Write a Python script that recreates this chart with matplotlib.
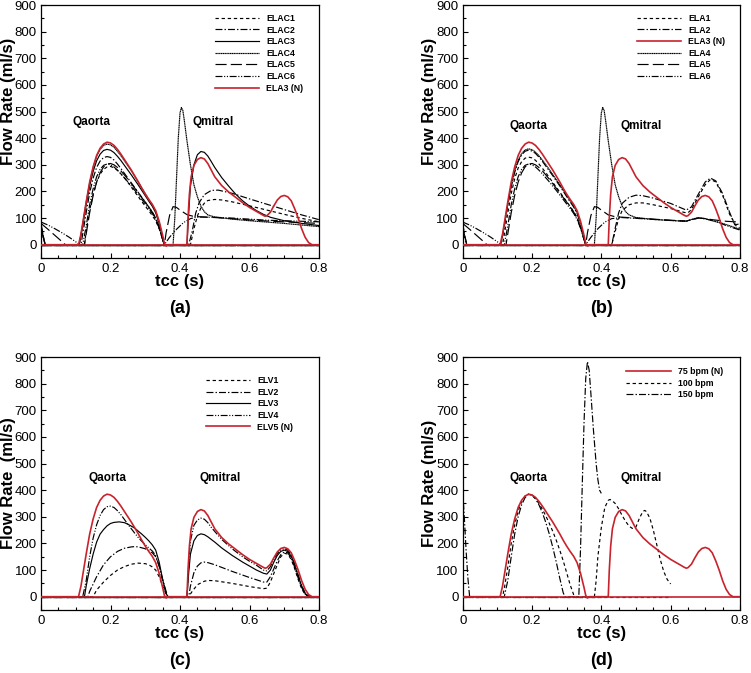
import matplotlib
matplotlib.use('Agg')
import matplotlib.pyplot as plt
from matplotlib.ticker import MultipleLocator, FuncFormatter

plt.rcParams['font.family'] = ['Liberation Sans', 'DejaVu Sans']
plt.rcParams['lines.scale_dashes'] = False

RED = '#c8232c'

# (t [s], Q [ml/s]); aortic + mitral flow of one case in one list
normal = [(0, 0), (0.108, 0), (0.115, 40), (0.12, 80), (0.13, 160), (0.14, 235), (0.15, 292),
          (0.16, 335), (0.17, 362), (0.18, 378), (0.19, 385), (0.20, 382), (0.21, 373), (0.22, 358),
          (0.23, 340), (0.24, 320), (0.25, 300), (0.26, 280), (0.27, 258), (0.28, 236), (0.29, 212),
          (0.30, 190), (0.31, 170), (0.32, 152), (0.33, 128), (0.34, 88), (0.35, 35), (0.355, 5),
          (0.36, -5), (0.365, 0), (0.42, 0), (0.423, 100), (0.427, 190), (0.432, 255), (0.44, 298),
          (0.45, 320), (0.46, 327), (0.47, 322), (0.48, 305), (0.49, 280), (0.50, 255), (0.52, 222),
          (0.54, 198), (0.56, 178), (0.58, 158), (0.60, 140), (0.62, 125), (0.64, 110), (0.645, 107),
          (0.65, 109), (0.66, 122), (0.67, 146), (0.68, 168), (0.69, 181), (0.70, 185), (0.71, 180),
          (0.72, 165), (0.73, 135), (0.74, 100), (0.75, 60), (0.76, 28), (0.77, 8), (0.78, 0), (0.8, 0)]

# panel (a)
elac1 = [(0, 80), (0.006, 35), (0.012, 0), (0.125, 0), (0.13, 50), (0.14, 130), (0.15, 190), (0.16, 235),
         (0.17, 265), (0.18, 283), (0.19, 292), (0.20, 294), (0.21, 289), (0.22, 279), (0.23, 266),
         (0.24, 251), (0.25, 234), (0.26, 216), (0.27, 198), (0.28, 180), (0.29, 162), (0.30, 145),
         (0.31, 128), (0.32, 110), (0.33, 90), (0.34, 60), (0.35, 20), (0.355, 0), (0.43, 0), (0.44, 60),
         (0.45, 108), (0.46, 138), (0.47, 156), (0.48, 166), (0.50, 170), (0.52, 168), (0.55, 161),
         (0.60, 146), (0.65, 130), (0.70, 114), (0.75, 99), (0.80, 86)]
elac2 = [(0, 80), (0.006, 35), (0.012, 0), (0.115, 0), (0.12, 40), (0.13, 120), (0.14, 195), (0.15, 250),
         (0.16, 290), (0.17, 314), (0.18, 327), (0.19, 331), (0.20, 328), (0.21, 318), (0.22, 303),
         (0.23, 286), (0.24, 268), (0.25, 250), (0.26, 232), (0.27, 214), (0.28, 196), (0.29, 178),
         (0.30, 160), (0.31, 142), (0.32, 123), (0.33, 100), (0.34, 65), (0.35, 20), (0.355, 0),
         (0.425, 0), (0.435, 50), (0.445, 118), (0.455, 158), (0.47, 188), (0.49, 204), (0.51, 205),
         (0.55, 193), (0.60, 172), (0.65, 152), (0.70, 132), (0.75, 112), (0.80, 94)]
elac3 = [(0, 75), (0.006, 30), (0.012, 0), (0.11, 0), (0.12, 70), (0.13, 150), (0.14, 220), (0.15, 275),
         (0.16, 315), (0.17, 340), (0.18, 354), (0.19, 358), (0.20, 355), (0.21, 346), (0.22, 332),
         (0.23, 316), (0.24, 298), (0.25, 280), (0.26, 262), (0.27, 243), (0.28, 224), (0.29, 204),
         (0.30, 184), (0.31, 164), (0.32, 145), (0.33, 120), (0.34, 80), (0.35, 25), (0.355, 0),
         (0.42, 0), (0.425, 120), (0.43, 220), (0.44, 300), (0.45, 338), (0.46, 350), (0.47, 347),
         (0.48, 333), (0.49, 312), (0.50, 290), (0.52, 252), (0.54, 220), (0.56, 190), (0.58, 165),
         (0.60, 145), (0.62, 128), (0.64, 114), (0.66, 103), (0.70, 90), (0.75, 80), (0.80, 72)]
elac4 = [(0, 70), (0.006, 30), (0.012, 0), (0.11, 0), (0.12, 78), (0.13, 160), (0.14, 232), (0.15, 290),
         (0.16, 332), (0.17, 358), (0.18, 373), (0.19, 378), (0.20, 375), (0.21, 366), (0.22, 351),
         (0.23, 334), (0.24, 315), (0.25, 296), (0.26, 277), (0.27, 256), (0.28, 235), (0.29, 213),
         (0.30, 192), (0.31, 171), (0.32, 150), (0.33, 125), (0.34, 85), (0.35, 28), (0.355, 0),
         (0.38, 0), (0.385, 100), (0.39, 250), (0.395, 400), (0.40, 495), (0.404, 515), (0.408, 505),
         (0.412, 470), (0.42, 390), (0.43, 300), (0.44, 225), (0.45, 180), (0.46, 145), (0.47, 124),
         (0.48, 112), (0.50, 104), (0.55, 96), (0.60, 90), (0.65, 85), (0.70, 80), (0.75, 74), (0.80, 68)]
elac5 = [(0, 80), (0.02, 58), (0.04, 35), (0.06, 12), (0.07, 0), (0.125, 0), (0.13, 40), (0.14, 120),
         (0.15, 185), (0.16, 235), (0.17, 270), (0.18, 292), (0.19, 303), (0.20, 305), (0.21, 300),
         (0.22, 290), (0.23, 277), (0.24, 262), (0.25, 246), (0.26, 229), (0.27, 212), (0.28, 195),
         (0.29, 177), (0.30, 160), (0.31, 142), (0.32, 123), (0.33, 100), (0.34, 65), (0.35, 20),
         (0.355, 0), (0.36, 45), (0.37, 110), (0.38, 143), (0.39, 140), (0.40, 130), (0.42, 113),
         (0.44, 106), (0.50, 102), (0.55, 98), (0.60, 93), (0.65, 89), (0.70, 86), (0.75, 83), (0.80, 80)]
elac6 = [(0, 85), (0.02, 74), (0.04, 60), (0.06, 45), (0.08, 29), (0.10, 11), (0.11, 0), (0.12, 0),
         (0.13, 70), (0.14, 150), (0.15, 210), (0.16, 255), (0.17, 283), (0.18, 298), (0.19, 303),
         (0.20, 300), (0.21, 292), (0.22, 280), (0.23, 266), (0.24, 251), (0.25, 236), (0.26, 220),
         (0.27, 204), (0.28, 187), (0.29, 170), (0.30, 153), (0.31, 136), (0.32, 118), (0.33, 95),
         (0.34, 62), (0.35, 20), (0.355, 0), (0.37, 28), (0.39, 58), (0.41, 83), (0.43, 98), (0.45, 104),
         (0.50, 103), (0.55, 100), (0.60, 96), (0.65, 92), (0.70, 90), (0.75, 88), (0.80, 86)]

# panel (b)
ela1 = [(0, 60), (0.006, 25), (0.012, 0), (0.115, 0), (0.12, 38), (0.13, 118), (0.14, 192), (0.15, 248),
        (0.16, 288), (0.17, 312), (0.18, 325), (0.19, 329), (0.20, 326), (0.21, 317), (0.22, 303),
        (0.23, 287), (0.24, 270), (0.25, 252), (0.26, 234), (0.27, 216), (0.28, 198), (0.29, 180),
        (0.30, 162), (0.31, 144), (0.32, 125), (0.33, 102), (0.34, 66), (0.35, 20), (0.355, 0),
        (0.43, 0), (0.44, 50), (0.45, 98), (0.46, 128), (0.48, 150), (0.50, 157), (0.52, 157),
        (0.55, 150), (0.60, 136), (0.64, 121), (0.65, 120), (0.66, 132), (0.68, 180), (0.70, 226),
        (0.715, 245), (0.73, 236), (0.75, 185), (0.77, 115), (0.79, 68), (0.80, 62)]
ela2 = [(0, 80), (0.006, 35), (0.012, 0), (0.11, 0), (0.12, 68), (0.13, 148), (0.14, 218), (0.15, 272),
        (0.16, 312), (0.17, 337), (0.18, 351), (0.19, 355), (0.20, 352), (0.21, 343), (0.22, 329),
        (0.23, 313), (0.24, 295), (0.25, 277), (0.26, 259), (0.27, 240), (0.28, 221), (0.29, 201),
        (0.30, 181), (0.31, 161), (0.32, 142), (0.33, 118), (0.34, 78), (0.35, 24), (0.355, 0),
        (0.43, 0), (0.44, 62), (0.45, 120), (0.46, 155), (0.48, 178), (0.50, 186), (0.52, 184),
        (0.55, 175), (0.60, 155), (0.645, 130), (0.66, 142), (0.68, 190), (0.70, 236), (0.715, 250),
        (0.73, 240), (0.75, 192), (0.77, 122), (0.785, 75), (0.80, 78)]
ela4 = [(0, 75), (0.006, 30), (0.012, 0), (0.11, 0), (0.12, 72), (0.13, 152), (0.14, 222), (0.15, 277),
        (0.16, 317), (0.17, 342), (0.18, 356), (0.19, 360), (0.20, 357), (0.21, 348), (0.22, 334),
        (0.23, 318), (0.24, 300), (0.25, 282), (0.26, 263), (0.27, 244), (0.28, 225), (0.29, 205),
        (0.30, 185), (0.31, 165), (0.32, 146), (0.33, 121), (0.34, 81), (0.35, 26), (0.355, 0),
        (0.38, 0), (0.385, 100), (0.39, 250), (0.395, 400), (0.40, 495), (0.404, 515), (0.408, 505),
        (0.412, 470), (0.42, 390), (0.43, 300), (0.44, 225), (0.45, 180), (0.46, 145), (0.47, 124),
        (0.48, 112), (0.50, 102), (0.55, 95), (0.60, 91), (0.645, 88), (0.66, 95), (0.68, 102),
        (0.70, 98), (0.72, 90), (0.75, 80), (0.80, 58)]
ela5 = [(0, 80), (0.02, 58), (0.04, 35), (0.06, 12), (0.07, 0), (0.125, 0), (0.13, 40), (0.14, 120),
        (0.15, 185), (0.16, 235), (0.17, 270), (0.18, 292), (0.19, 303), (0.20, 305), (0.21, 300),
        (0.22, 290), (0.23, 277), (0.24, 262), (0.25, 246), (0.26, 229), (0.27, 212), (0.28, 195),
        (0.29, 177), (0.30, 160), (0.31, 142), (0.32, 123), (0.33, 100), (0.34, 65), (0.35, 20),
        (0.355, 0), (0.36, 45), (0.37, 110), (0.38, 143), (0.39, 140), (0.40, 130), (0.42, 112),
        (0.44, 105), (0.50, 100), (0.55, 96), (0.60, 92), (0.645, 89), (0.66, 94), (0.68, 100),
        (0.70, 98), (0.72, 94), (0.76, 88), (0.80, 85)]
ela6 = [(0, 85), (0.02, 74), (0.04, 60), (0.06, 45), (0.08, 29), (0.10, 11), (0.11, 0), (0.12, 0),
        (0.13, 70), (0.14, 150), (0.15, 210), (0.16, 255), (0.17, 283), (0.18, 298), (0.19, 303),
        (0.20, 300), (0.21, 292), (0.22, 280), (0.23, 266), (0.24, 251), (0.25, 236), (0.26, 220),
        (0.27, 204), (0.28, 187), (0.29, 170), (0.30, 153), (0.31, 136), (0.32, 118), (0.33, 95),
        (0.34, 62), (0.35, 20), (0.355, 0), (0.37, 28), (0.39, 60), (0.41, 85), (0.43, 98), (0.46, 102),
        (0.50, 99), (0.55, 95), (0.60, 91), (0.645, 88), (0.66, 94), (0.68, 100), (0.70, 97),
        (0.73, 88), (0.76, 72), (0.80, 55)]

# panel (c)
elv1 = [(0, 0), (0.15, 0), (0.16, 25), (0.18, 55), (0.20, 80), (0.22, 100), (0.24, 113), (0.26, 122),
        (0.28, 126), (0.30, 124), (0.31, 120), (0.32, 112), (0.33, 100), (0.34, 75), (0.35, 40),
        (0.36, 10), (0.365, 0), (0.425, 0), (0.435, 20), (0.45, 45), (0.47, 58), (0.48, 61), (0.50, 60),
        (0.55, 50), (0.60, 38), (0.64, 30), (0.65, 32), (0.66, 55), (0.68, 120), (0.69, 150), (0.70, 163),
        (0.71, 160), (0.72, 140), (0.73, 105), (0.74, 65), (0.75, 30), (0.76, 8), (0.77, 0), (0.8, 0)]
elv2 = [(0, 0), (0.135, 0), (0.14, 20), (0.16, 75), (0.18, 120), (0.20, 150), (0.22, 170), (0.24, 182),
        (0.26, 187), (0.27, 188), (0.28, 187), (0.30, 180), (0.32, 165), (0.33, 150), (0.34, 115),
        (0.35, 65), (0.36, 20), (0.365, 0), (0.425, 0), (0.43, 40), (0.44, 90), (0.45, 115), (0.46, 127),
        (0.47, 130), (0.48, 128), (0.50, 120), (0.55, 95), (0.60, 72), (0.64, 55), (0.65, 55), (0.66, 75),
        (0.68, 135), (0.69, 158), (0.70, 168), (0.71, 165), (0.72, 145), (0.73, 110), (0.74, 70),
        (0.75, 35), (0.76, 10), (0.775, 0), (0.8, 0)]
elv3 = [(0, 0), (0.125, 0), (0.13, 40), (0.14, 105), (0.15, 160), (0.16, 205), (0.17, 235), (0.18, 252),
        (0.19, 266), (0.20, 275), (0.21, 279), (0.225, 281), (0.24, 278), (0.25, 272), (0.26, 265),
        (0.27, 257), (0.28, 246), (0.29, 235), (0.30, 223), (0.31, 210), (0.32, 195), (0.33, 175),
        (0.34, 130), (0.35, 65), (0.36, 12), (0.365, 0), (0.42, 0), (0.425, 90), (0.43, 160), (0.44, 210),
        (0.45, 230), (0.46, 236), (0.47, 233), (0.48, 225), (0.50, 205), (0.52, 183), (0.55, 155),
        (0.58, 130), (0.60, 115), (0.62, 100), (0.64, 88), (0.65, 85), (0.66, 100), (0.67, 130),
        (0.68, 155), (0.69, 170), (0.70, 175), (0.71, 170), (0.72, 152), (0.73, 118), (0.74, 78),
        (0.75, 40), (0.76, 12), (0.77, 0), (0.8, 0)]
elv4 = [(0, 0), (0.12, 0), (0.13, 60), (0.14, 150), (0.15, 220), (0.16, 270), (0.17, 305), (0.18, 327),
        (0.19, 338), (0.20, 340), (0.21, 335), (0.22, 323), (0.23, 308), (0.24, 290), (0.25, 272),
        (0.26, 255), (0.27, 238), (0.28, 222), (0.29, 208), (0.30, 195), (0.31, 183), (0.32, 172),
        (0.33, 155), (0.34, 115), (0.35, 60), (0.36, 12), (0.365, 0), (0.42, 0), (0.425, 120), (0.43, 210),
        (0.44, 268), (0.45, 288), (0.46, 295), (0.47, 291), (0.48, 278), (0.49, 260), (0.50, 245),
        (0.52, 215), (0.55, 180), (0.58, 150), (0.60, 133), (0.62, 118), (0.64, 100), (0.65, 97),
        (0.66, 113), (0.67, 140), (0.68, 162), (0.69, 176), (0.70, 180), (0.71, 175), (0.72, 158),
        (0.73, 123), (0.74, 82), (0.75, 42), (0.76, 14), (0.775, 0), (0.8, 0)]

# panel (d)
bpm100 = [(0, 0), (0.115, 0), (0.12, 30), (0.13, 110), (0.14, 200), (0.15, 270), (0.16, 322), (0.17, 357),
          (0.18, 378), (0.19, 385), (0.20, 380), (0.21, 368), (0.22, 350), (0.23, 328), (0.24, 303),
          (0.25, 275), (0.26, 245), (0.27, 212), (0.28, 175), (0.29, 135), (0.30, 90), (0.31, 45),
          (0.32, 8), (0.325, 0), (0.38, 0), (0.385, 60), (0.39, 150), (0.40, 260), (0.41, 335),
          (0.42, 362), (0.425, 365), (0.43, 362), (0.44, 350), (0.45, 330), (0.46, 305), (0.47, 283),
          (0.48, 265), (0.49, 256), (0.50, 262), (0.51, 295), (0.52, 320), (0.525, 324), (0.53, 320),
          (0.54, 295), (0.55, 250), (0.56, 195), (0.57, 140), (0.58, 95), (0.59, 65), (0.60, 48)]
bpm150 = [(0, 400), (0.005, 290), (0.01, 170), (0.015, 70), (0.02, 0), (0.12, 0), (0.13, 60), (0.14, 150),
          (0.15, 235), (0.16, 300), (0.17, 345), (0.18, 372), (0.19, 385), (0.20, 382), (0.21, 368),
          (0.22, 345), (0.23, 315), (0.24, 278), (0.25, 235), (0.26, 185), (0.27, 130), (0.28, 70),
          (0.29, 15), (0.295, 0), (0.335, 0), (0.34, 180), (0.345, 420), (0.35, 650), (0.355, 820),
          (0.36, 883), (0.365, 850), (0.37, 760), (0.377, 630), (0.385, 500), (0.39, 440), (0.395, 400),
          (0.40, 388)]

# cycle length of each case (the closed valve sits at 0 over the whole cycle)
period_75, period_100, period_150 = 0.8, 0.6, 0.4

ls_dot = (0, (2.4, 2.0))
ls_dashdot = (0, (5, 1.5, 1, 1.5))
ls_dense = (0, (1.0, 0.3))
ls_long = (0, (8, 3))
ls_dashdotdot = (0, (5, 1.2, 0.8, 1.2, 0.8, 1.2))

panels = [
    ('(a)', [('ELAC1', elac1, ls_dot, 'k'), ('ELAC2', elac2, ls_dashdot, 'k'), ('ELAC3', elac3, '-', 'k'),
             ('ELAC4', elac4, ls_dense, 'k'), ('ELAC5', elac5, ls_long, 'k'),
             ('ELAC6', elac6, ls_dashdotdot, 'k'), ('ELA3 (N)', normal, '-', RED)],
     [period_75] * 7, (0.144, 0.494, 459), 'Flow Rate (ml/s)', 0.62, (0.625, 0.965)),
    ('(b)', [('ELA1', ela1, ls_dot, 'k'), ('ELA2', ela2, ls_dashdot, 'k'), ('ELA3 (N)', normal, '-', RED),
             ('ELA4', ela4, ls_dense, 'k'), ('ELA5', ela5, ls_long, 'k'), ('ELA6', ela6, ls_dashdotdot, 'k')],
     [period_75] * 6, (0.19, 0.516, 444), 'Flow Rate (ml/s)', 0.62, (0.627, 0.965)),
    ('(c)', [('ELV1', elv1, ls_dot, 'k'), ('ELV2', elv2, ls_dashdot, 'k'), ('ELV3', elv3, '-', 'k'),
             ('ELV4', elv4, ls_dashdotdot, 'k'), ('ELV5 (N)', normal, '-', RED)],
     [period_75] * 5, (0.19, 0.514, 446), 'Flow Rate  (ml/s)', 0.50, (0.593, 0.925)),
    ('(d)', [('75 bpm (N)', normal, '-', RED), ('100 bpm', bpm100, ls_dot, 'k'),
             ('150 bpm', bpm150, ls_dashdot, 'k')],
     [period_75, period_100, period_150], (0.19, 0.516, 446), 'Flow Rate (ml/s)', 0.50, (0.59, 0.96)),
]

boxes = [[0.0546, 0.6166, 0.3702, 0.3759], [0.6161, 0.6166, 0.3692, 0.3759],
         [0.0546, 0.0936, 0.3702, 0.3759], [0.6161, 0.0936, 0.3692, 0.3759]]

fig = plt.figure(figsize=(7.51, 6.73), dpi=100)

for box, (letter, curves, periods, qpos, ylab, ylab_y, leg_xy) in zip(boxes, panels):
    ax = fig.add_axes(box)
    handles = []
    for (label, pts, ls, color), period in zip(curves, periods):
        lw = 1.2 if color == RED else 0.85
        z = 3 if color == RED else 2
        t = [p[0] for p in pts]
        q = [p[1] for p in pts]
        h, = ax.plot(t, q, linestyle=ls, color=color, lw=lw, label=label, zorder=z)
        ax.hlines(0, 0, period, colors=color, linestyles=[ls], lw=lw, zorder=z)
        handles.append(h)

    ax.set_xlim(0, 0.8)
    ax.set_ylim(-50, 900)
    ax.xaxis.set_major_locator(MultipleLocator(0.2))
    ax.xaxis.set_minor_locator(MultipleLocator(0.05))
    ax.yaxis.set_major_locator(MultipleLocator(100))
    ax.yaxis.set_minor_locator(MultipleLocator(50))
    ax.xaxis.set_major_formatter(FuncFormatter(lambda v, p: '0' if abs(v) < 1e-9 else f'{v:g}'))
    ax.tick_params(which='both', direction='in', top=False, right=False, labelsize=9.5, width=0.8)
    ax.tick_params(which='major', length=3.6)
    ax.tick_params(which='minor', length=2)
    ax.tick_params(axis='x', pad=3.5)
    ax.tick_params(axis='y', pad=3)
    for s in ax.spines.values():
        s.set_linewidth(0.9)

    ax.text(qpos[0], qpos[2], 'Qaorta', ha='center', va='center', fontsize=8.5, fontweight='bold')
    ax.text(qpos[1], qpos[2], 'Qmitral', ha='center', va='center', fontsize=8.5, fontweight='bold')

    ax.text(0.5, -0.094, 'tcc (s)', transform=ax.transAxes, ha='center', va='center',
            fontsize=12, fontweight='bold')
    ax.text(0.5, -0.199, letter, transform=ax.transAxes, ha='center', va='center',
            fontsize=13, fontweight='bold')
    ax.text(-0.118, ylab_y, ylab, transform=ax.transAxes, rotation=90, ha='center', va='center',
            fontsize=12, fontweight='bold')

    ax.legend(handles=handles, loc='upper left', bbox_to_anchor=leg_xy, frameon=False,
              prop={'weight': 'bold', 'size': 6.3}, handlelength=5.1, handletextpad=0.8,
              labelspacing=0.3, borderpad=0, borderaxespad=0)

fig.savefig('out.png', dpi=100)
